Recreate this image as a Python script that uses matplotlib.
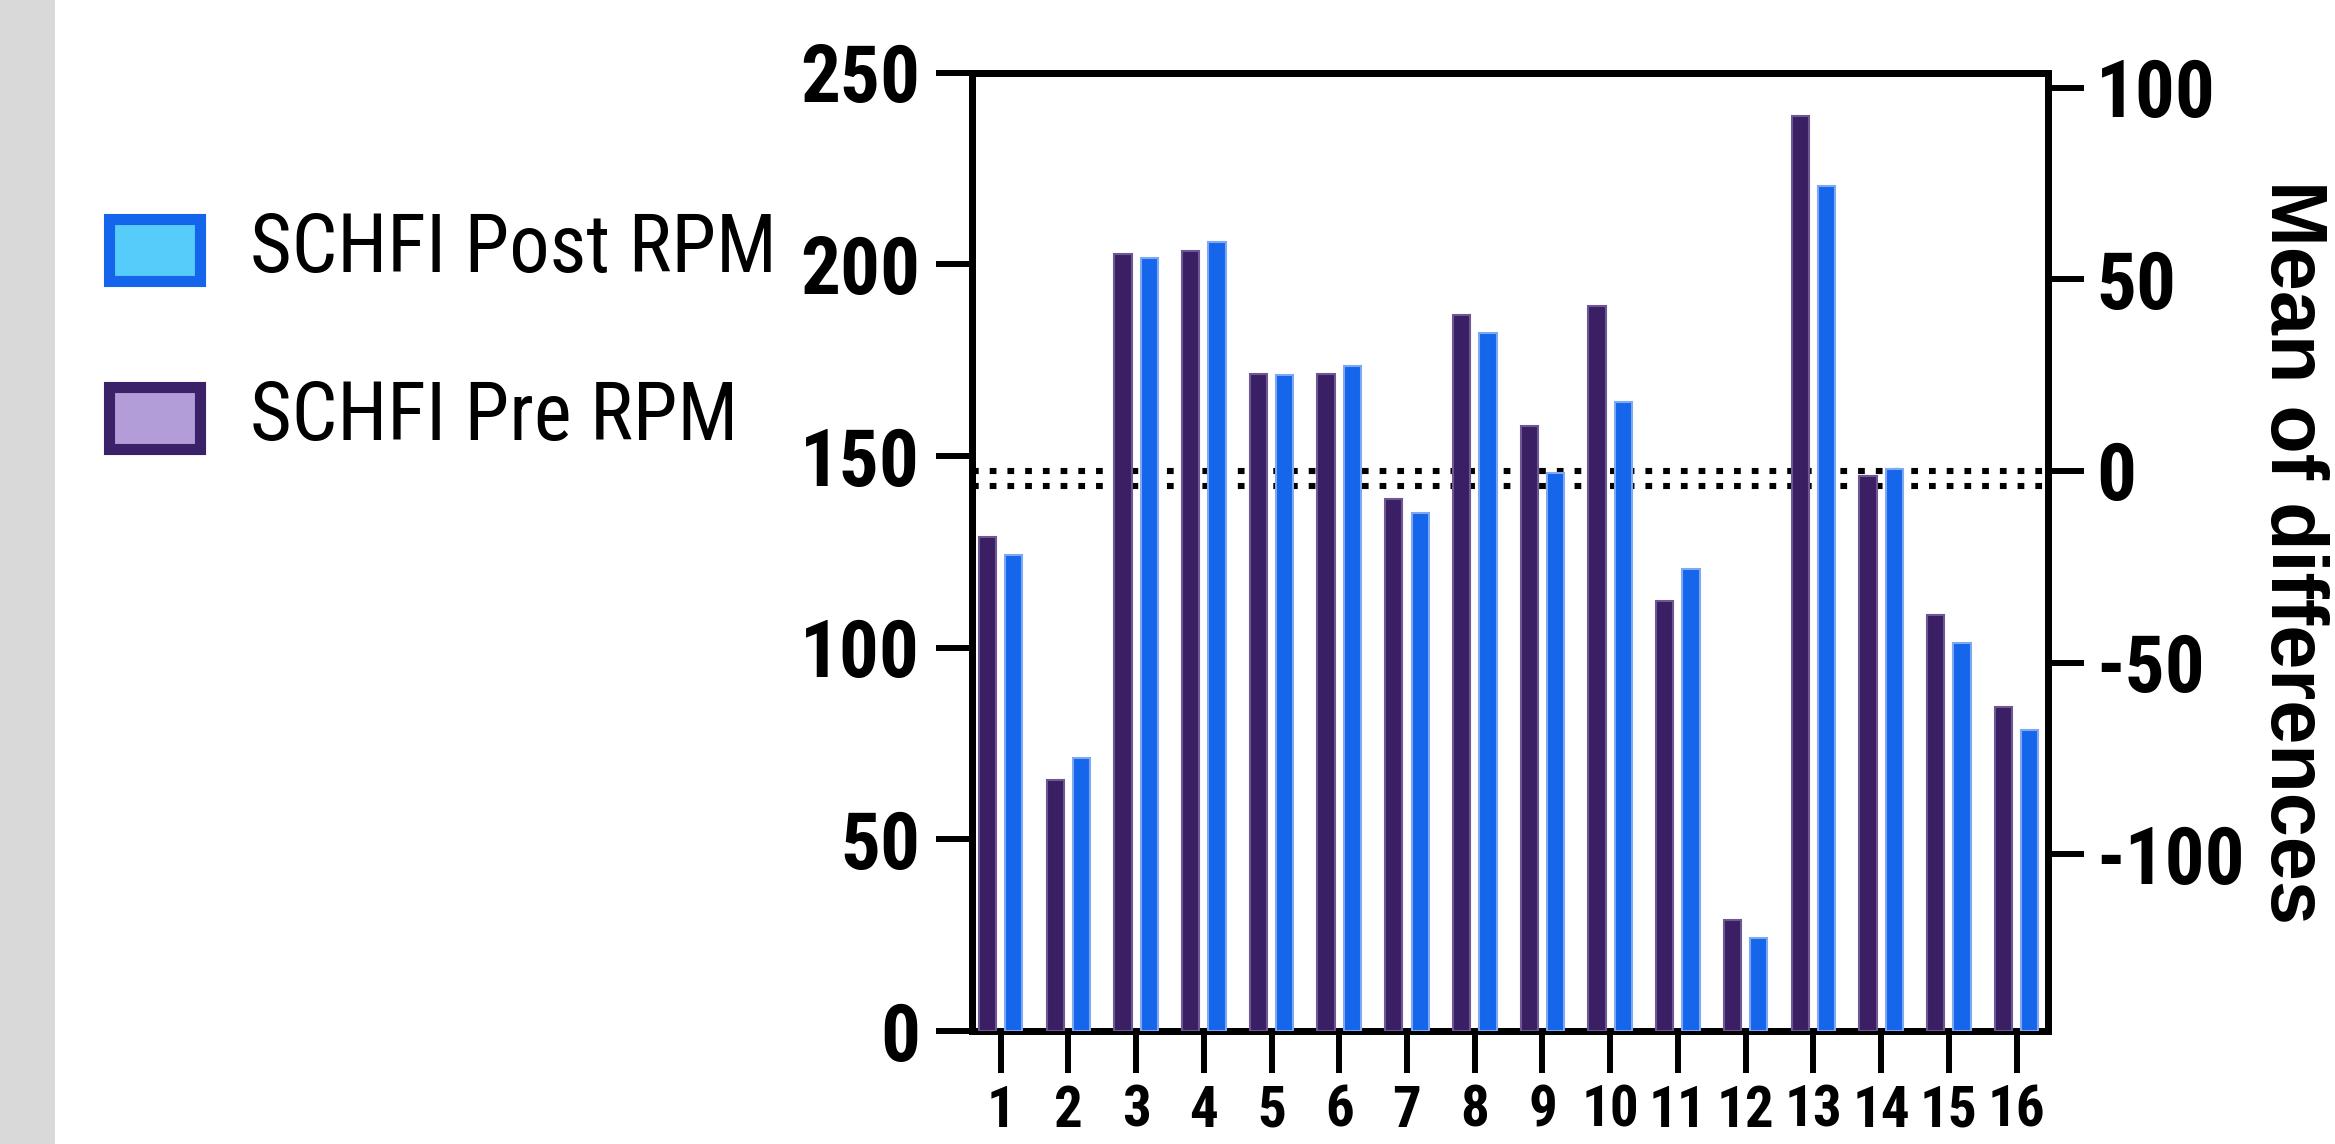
import matplotlib
matplotlib.use("Agg")
import matplotlib.pyplot as plt
from matplotlib import font_manager
from matplotlib.font_manager import FontProperties
from matplotlib.patches import Rectangle
import numpy as np

# ---------------- data ----------------
subjects = [str(i) for i in range(1, 17)]
pre_rpm = [129.0, 65.4, 202.6, 203.6, 171.4, 171.4, 138.7, 186.9,
           157.9, 189.1, 112.3, 29.0, 238.8, 144.7, 108.6, 84.6]
post_rpm = [124.1, 71.2, 201.7, 205.9, 171.1, 173.5, 135.2, 182.0,
            145.7, 164.0, 120.5, 24.2, 220.4, 146.7, 101.3, 78.5]
mean_diff_lines = [0.0, -3.9]
left_ticks = [0, 50, 100, 150, 200, 250]
right_ticks = [-100, -50, 0, 50, 100]
series_labels = ["SCHFI Post RPM", "SCHFI Pre RPM"]
right_label = "Mean of differences"

# ---------------- fonts ----------------
ttf = font_manager.fontManager.ttflist
names = {f.name for f in ttf}
wide = "Liberation Sans" if "Liberation Sans" in names else "DejaVu Sans"


def find_condensed(bold):
    pref = ["Liberation Sans Narrow", "Arial Narrow", "Noto Sans Condensed",
            "Noto Sans SemiCondensed", "Roboto Condensed", "Open Sans Condensed",
            "DejaVu Sans Condensed", "Noto Sans"]
    cands = []
    for f in ttf:
        nm = f.name
        is_cond = ("Narrow" in nm or "Condensed" in nm or
                   str(f.stretch) in ("condensed", "semi-condensed"))
        if not is_cond or "Extra" in nm or "Mono" in nm or "Serif" in nm:
            continue
        w = f.weight if isinstance(f.weight, int) else (700 if "bold" in str(f.weight).lower() else 400)
        if bold and w < 600:
            continue
        if not bold and (w >= 600 or w < 350):
            continue
        if f.style != "normal":
            continue
        try:
            rank = pref.index(nm)
        except ValueError:
            rank = len(pref)
        cands.append((rank, abs(w - (700 if bold else 400)), f.fname))
    if cands:
        cands.sort()
        return cands[0][2]
    return None


cond_reg = find_condensed(False)
cond_bold = find_condensed(True)
have_cond = cond_reg is not None and cond_bold is not None


def fp(bold, size, cond_size=None):
    if have_cond:
        return FontProperties(fname=cond_bold if bold else cond_reg,
                              size=cond_size if cond_size else size)
    return FontProperties(family=wide, weight="bold" if bold else "normal", size=size)


# sizes: condensed font matches reference height; fallback is shrunk to match width
ytick_fp = fp(True, 46, 57)
xtick_fp = fp(True, 33, 41)
legend_fp = fp(False, 49, 58)

pre_color = "#3A1F64"
pre_edge = "#6E5894"
post_color = "#1566EB"
post_edge = "#7FA8F2"

W, H = 2335, 1144
fig = plt.figure(figsize=(W / 100, H / 100), dpi=100)
fig.patch.set_facecolor("white")

fig.add_artist(Rectangle((0, 0), 55 / W, 1, transform=fig.transFigure,
                         facecolor="#D9D9D9", edgecolor="none"))

ax_l, ax_r = 971.5 / W, 2047.7 / W
ax_t, ax_b = 1 - 72.7 / H, 1 - 1031 / H
ax = fig.add_axes([ax_l, ax_b, ax_r - ax_l, ax_t - ax_b])
ax2 = ax.twinx()
ax.set_zorder(ax2.get_zorder() + 1)
ax.patch.set_visible(False)

x = np.arange(1, len(subjects) + 1)
off = 0.195
bw = 0.255
ax.bar(x - off, pre_rpm, width=bw, color=pre_color, edgecolor=pre_edge, linewidth=1.5, zorder=3)
ax.bar(x + off, post_rpm, width=bw, color=post_color, edgecolor=post_edge, linewidth=1.5, zorder=3)

ax.set_xlim(0.57, 16.46)
ax.set_ylim(0, 250)
ax2.set_ylim(-146.1, 103.9)

for v in mean_diff_lines:
    ax2.axhline(v, color="black", linewidth=4.4, linestyle=(0, (1.1, 1.8)), zorder=1)

for a in (ax, ax2):
    for s in a.spines.values():
        s.set_linewidth(5.0)
        s.set_color("black")

ax.set_xticks(x)
ax.set_xticklabels(subjects)
ax.set_yticks(left_ticks)
ax.set_yticklabels([str(t) for t in left_ticks])
ax2.set_yticks(right_ticks)
ax2.set_yticklabels([str(t) for t in right_ticks])

ax.tick_params(axis="y", direction="out", length=26, width=4.3, pad=11)
ax.tick_params(axis="x", direction="out", length=30, width=4.3, pad=8)
ax2.tick_params(axis="y", direction="out", length=26, width=4.3, pad=9)

for lab in ax.get_yticklabels() + ax2.get_yticklabels():
    lab.set_fontproperties(ytick_fp)
for lab in ax.get_xticklabels():
    lab.set_fontproperties(xtick_fp)

fig.text(2291 / W, 1 - 552 / H, right_label, rotation=270, ha="center", va="center",
         fontsize=57, fontweight="bold", family=[wide, "DejaVu Sans"])

sw_colors = [("#55CCFA", "#1565EC"), ("#B39DD8", "#3B2168")]
sw_centers = [250, 418]
for (fc, ec), cy, lab in zip(sw_colors, sw_centers, series_labels):
    x0, x1 = 109, 200
    y0, y1 = cy - 31, cy + 31
    fig.add_artist(Rectangle((x0 / W, 1 - y1 / H), (x1 - x0) / W, (y1 - y0) / H,
                             transform=fig.transFigure, facecolor=fc, edgecolor=ec,
                             linewidth=8))
    fig.text(250 / W, 1 - cy / H, lab, ha="left", va="center", fontproperties=legend_fp)

fig.savefig("out.png", dpi=100)
